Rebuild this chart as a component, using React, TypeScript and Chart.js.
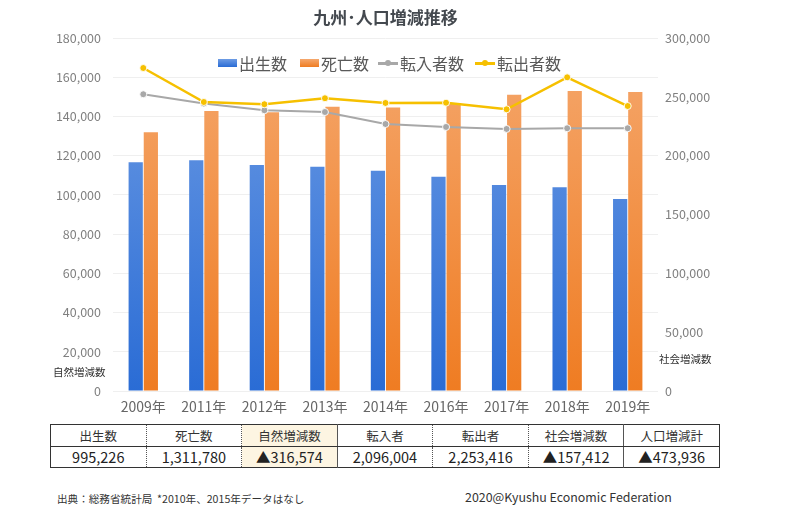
import React, { useEffect, useRef } from "react";
import { Chart, registerables } from "chart.js";
Chart.register(...registerables);

const FONT = "'Noto Sans CJK JP', 'Noto Sans', sans-serif";

const years = ["2009年", "2011年", "2012年", "2013年", "2014年", "2016年", "2017年", "2018年", "2019年"];
const births = [116600, 117600, 115200, 114400, 112300, 109300, 105000, 103900, 97900];
const deaths = [131900, 142800, 142100, 145000, 144500, 146900, 151100, 153000, 152500];
const moveIn = [252200, 244300, 238600, 237100, 226900, 224400, 222700, 223300, 223300];
const moveOut = [274500, 245600, 243700, 248800, 244800, 245000, 239400, 266600, 242200];

const seriesNames = ["出生数", "死亡数", "転入者数", "転出者数"];
const tableHeaders = ["出生数", "死亡数", "自然増減数", "転入者", "転出者", "社会増減数", "人口増減計"];
const tableValues = ["995,226", "1,311,780", "▲316,574", "2,096,004", "2,253,416", "▲157,412", "▲473,936"];

const BLUE_TOP = "#6e9ce4";
const BLUE_BOTTOM = "#2a6cd5";
const ORANGE_TOP = "#f5a86e";
const ORANGE_BOTTOM = "#ef7c22";
const GRAY = "#a8a8a8";
const YELLOW = "#f6c000";

function grad(c: any, top: string, bottom: string) {
  const chart = c.chart;
  const a = chart.chartArea;
  if (!a) return bottom;
  const g = chart.ctx.createLinearGradient(0, a.bottom, 0, a.top);
  g.addColorStop(0, bottom);
  g.addColorStop(1, top);
  return g;
}

const fmt = (v: any) => Number(v).toLocaleString("en-US");

export default function App() {
  const ref = useRef<HTMLCanvasElement | null>(null);

  useEffect(() => {
    if (!ref.current) return;
    const chart = new Chart(ref.current, {
      type: "bar",
      data: {
        labels: years,
        datasets: [
          {
            type: "bar",
            label: seriesNames[0],
            data: births,
            backgroundColor: (c: any) => grad(c, BLUE_TOP, BLUE_BOTTOM),
            borderWidth: 0,
            yAxisID: "y",
            order: 2,
            categoryPercentage: 0.5,
            barPercentage: 0.94,
          },
          {
            type: "bar",
            label: seriesNames[1],
            data: deaths,
            backgroundColor: (c: any) => grad(c, ORANGE_TOP, ORANGE_BOTTOM),
            borderWidth: 0,
            yAxisID: "y",
            order: 2,
            categoryPercentage: 0.5,
            barPercentage: 0.94,
          },
          {
            type: "line",
            label: seriesNames[2],
            data: moveIn,
            borderColor: GRAY,
            backgroundColor: GRAY,
            borderWidth: 2,
            pointRadius: 3.5,
            pointBackgroundColor: GRAY,
            pointBorderColor: "rgba(255,255,255,0.9)",
            pointBorderWidth: 1,
            yAxisID: "y2",
            order: 1,
            tension: 0,
          },
          {
            type: "line",
            label: seriesNames[3],
            data: moveOut,
            borderColor: YELLOW,
            backgroundColor: YELLOW,
            borderWidth: 2.5,
            pointRadius: 3.5,
            pointBackgroundColor: YELLOW,
            pointBorderColor: "rgba(255,255,255,0.9)",
            pointBorderWidth: 1,
            yAxisID: "y2",
            order: 0,
            tension: 0,
          },
        ],
      },
      options: {
        animation: false,
        responsive: false,
        maintainAspectRatio: false,
        layout: { padding: { top: 38, left: 0, right: 0, bottom: 0 } },
        plugins: {
          legend: { display: false },
          title: { display: false },
          tooltip: { enabled: false },
        },
        scales: {
          x: {
            grid: { display: false, drawTicks: false },
            border: { display: false },
            ticks: { color: "#666", font: { family: FONT, size: 14 }, padding: 7, maxRotation: 0 },
            afterFit: (s: any) => {
              s.height = 29;
            },
          },
          y: {
            position: "left",
            min: 0,
            max: 180000,
            grid: { color: "#efefef", drawTicks: false, lineWidth: 1 },
            border: { display: false },
            ticks: {
              stepSize: 20000,
              color: "#808080",
              font: { family: FONT, size: 12.5 },
              padding: 12,
              callback: (v: any) => fmt(v),
            },
            afterFit: (s: any) => {
              s.width = 113;
            },
          },
          y2: {
            position: "right",
            min: 0,
            max: 300000,
            grid: { display: false, drawTicks: false },
            border: { display: false },
            ticks: {
              stepSize: 50000,
              color: "#808080",
              font: { family: FONT, size: 12.5 },
              padding: 7,
              callback: (v: any) => fmt(v),
            },
            afterFit: (s: any) => {
              s.width = 142;
            },
          },
        },
      },
    });
    return () => chart.destroy();
  }, []);

  const legendItems = [
    { left: 218, kind: "bar", color: BLUE_BOTTOM, text: seriesNames[0] },
    { left: 300, kind: "bar", color: ORANGE_BOTTOM, text: seriesNames[1] },
    { left: 378, kind: "line", color: GRAY, text: seriesNames[2] },
    { left: 475, kind: "line", color: YELLOW, text: seriesNames[3] },
  ];

  const colBorders = ["dotted", "dotted", "solid", "dotted", "dotted", "solid", "none"];

  return (
    <div style={{ position: "absolute", left: 0, top: 0, width: 800, height: 510, background: "#fff", fontFamily: FONT, overflow: "hidden" }}>
      <canvas ref={ref} width={800} height={420} style={{ position: "absolute", left: 0, top: 0, width: 800, height: 420 }} />
      <div style={{ position: "absolute", left: 113, width: 545, top: 6, textAlign: "center", fontSize: 17, fontWeight: 700, color: "#44494f", lineHeight: "22px" }}>
        九州･人口増減推移
      </div>
      {legendItems.map((it, i) => (
        <div key={i} style={{ position: "absolute", left: it.left, top: 52, height: 22, display: "flex", alignItems: "center", color: "#595959", fontSize: 16, whiteSpace: "nowrap" }}>
          {it.kind === "bar" ? (
            <span style={{ display: "inline-block", width: 19, height: 8, background: `linear-gradient(to bottom, ${i === 0 ? BLUE_TOP : ORANGE_TOP}, ${it.color})`, marginRight: 2 }} />
          ) : (
            <span style={{ position: "relative", display: "inline-block", width: 20, height: 8, marginRight: 2 }}>
              <span style={{ position: "absolute", left: 0, top: 3, width: 20, height: 2.5, background: it.color }} />
              <span style={{ position: "absolute", left: 7, top: 1, width: 6, height: 6, borderRadius: 3, background: it.color }} />
            </span>
          )}
          <span>{it.text}</span>
        </div>
      ))}
      <div style={{ position: "absolute", left: 53, top: 364, fontSize: 10.5, color: "#333", lineHeight: "16px" }}>自然増減数</div>
      <div style={{ position: "absolute", left: 659, top: 351, fontSize: 10.5, color: "#333", lineHeight: "16px" }}>社会増減数</div>
      <table
        style={{
          position: "absolute",
          left: 50,
          top: 424,
          width: 670,
          borderCollapse: "collapse",
          tableLayout: "fixed",
          border: "1.5px solid #333",
          color: "#222",
        }}
      >
        <tbody>
          <tr style={{ height: 22 }}>
            {tableHeaders.map((h, i) => (
              <td
                key={i}
                style={{
                  padding: 0,
                  textAlign: "center",
                  fontSize: 12.5,
                  color: "#333",
                  borderRight: colBorders[i] === "none" ? undefined : `1px ${colBorders[i]} #555`,
                  borderBottom: "1px solid #333",
                  background: i === 2 ? "#fdf5e2" : "#fff",
                  lineHeight: "21px",
                }}
              >
                {h}
              </td>
            ))}
          </tr>
          <tr style={{ height: 21 }}>
            {tableValues.map((v, i) => (
              <td
                key={i}
                style={{
                  padding: 0,
                  textAlign: "center",
                  fontSize: 14.5,
                  color: "#222",
                  borderRight: colBorders[i] === "none" ? undefined : `1px ${colBorders[i]} #555`,
                  background: i === 2 ? "#fdf5e2" : "#fff",
                  lineHeight: "20px",
                }}
              >
                {v}
              </td>
            ))}
          </tr>
        </tbody>
      </table>
      <div style={{ position: "absolute", left: 57, top: 491, fontSize: 10.6, color: "#333", lineHeight: "16px", whiteSpace: "nowrap" }}>
        出典：総務省統計局&nbsp;&nbsp;*2010年、2015年データはなし
      </div>
      <div style={{ position: "absolute", left: 465, top: 489, fontSize: 12.4, color: "#333", lineHeight: "16px", whiteSpace: "nowrap" }}>
        2020@Kyushu Economic Federation
      </div>
    </div>
  );
}
